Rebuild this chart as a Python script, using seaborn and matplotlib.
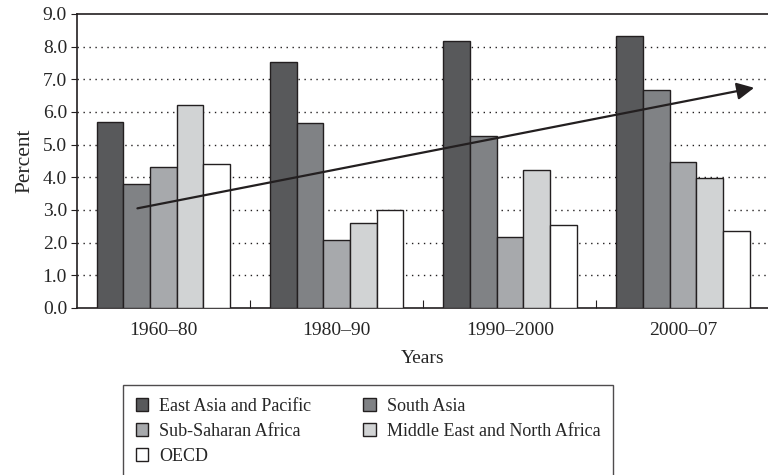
"""Growth rates by region and period, grouped bars with a trend arrow."""
import matplotlib.pyplot as plt
import pandas as pd
import seaborn as sns

periods = ["1960\u201380", "1980\u201390", "1990\u20132000", "2000\u201307"]
regions = [
    "East Asia and Pacific",
    "South Asia",
    "Sub-Saharan Africa",
    "Middle East and North Africa",
    "OECD",
]
east_asia = [5.68, 7.52, 8.17, 8.32]
south_asia = [3.80, 5.67, 5.27, 6.66]
sub_saharan = [4.33, 2.09, 2.16, 4.47]
mena = [6.22, 2.61, 4.23, 3.98]
oecd = [4.40, 3.00, 2.55, 2.35]
colors = ["#58595b", "#808285", "#a7a9ac", "#d1d3d4", "#ffffff"]
# trend arrow, (group position, percent)
trend_start = (-0.15, 3.05)
trend_end = (3.41, 6.74)

series = [east_asia, south_asia, sub_saharan, mena, oecd]
df = pd.DataFrame(
    [(p, r, v) for r, vals in zip(regions, series) for p, v in zip(periods, vals)],
    columns=["period", "region", "value"],
)

sns.set_style("white")
plt.rcParams["font.family"] = ["Liberation Serif", "DejaVu Serif"]

fig = plt.figure(figsize=(7.68, 4.75), dpi=100)
ax = fig.add_axes([0.100, 0.3516, 0.900, 0.619])

sns.barplot(
    data=df, x="period", y="value", hue="region", order=periods,
    hue_order=regions, palette=colors, saturation=1, width=0.77,
    edgecolor="#231f20", linewidth=1.0, ax=ax, zorder=3,
)

ax.set_ylim(0, 9)
ax.set_xlim(-0.5, 3.49)
ax.set_yticks(range(10))
ax.set_yticklabels([f"{v:.1f}" for v in range(10)], fontsize=14)
ax.tick_params(axis="y", length=4, width=0.8, color="#231f20", pad=3, left=True)
ax.tick_params(axis="x", which="major", length=0, labelsize=14, pad=10)
ax.set_xticks([0.5, 1.5, 2.5], minor=True)
ax.tick_params(axis="x", which="minor", direction="in", length=6, width=0.8,
               color="#231f20", bottom=True)
for y in range(1, 9):
    ax.axhline(y, color="#231f20", lw=1.0, ls=(0, (1, 3.3)), zorder=1)

for side in ["left", "top", "bottom"]:
    ax.spines[side].set_color("#231f20")
    ax.spines[side].set_linewidth(1.2)
ax.spines["right"].set_visible(False)

ax.set_xlabel("Years", fontsize=14, labelpad=8)
ax.set_ylabel("Percent", fontsize=15.5, labelpad=6)

ax.annotate(
    "", xy=trend_end, xytext=trend_start,
    arrowprops=dict(arrowstyle="-|>", lw=1.6, color="#231f20",
                    mutation_scale=26, shrinkA=0, shrinkB=0),
    zorder=5,
)

handles, labels = ax.get_legend_handles_labels()
ax.get_legend().remove()
# row-major order in a two-column legend
order = [0, 2, 4, 1, 3]
leg = fig.legend(
    [handles[i] for i in order], [labels[i] for i in order],
    loc="upper left", ncol=2,
    bbox_to_anchor=(0.160, -0.05, 0.638, 0.239), mode="expand",
    fontsize=13, frameon=True, fancybox=False, edgecolor="#231f20",
    handlelength=0.7, handleheight=0.7, handletextpad=0.6,
    labelspacing=0.45, borderpad=0.7, borderaxespad=0,
)
leg.get_frame().set_linewidth(1.0)

fig.savefig("out.png", dpi=100)
